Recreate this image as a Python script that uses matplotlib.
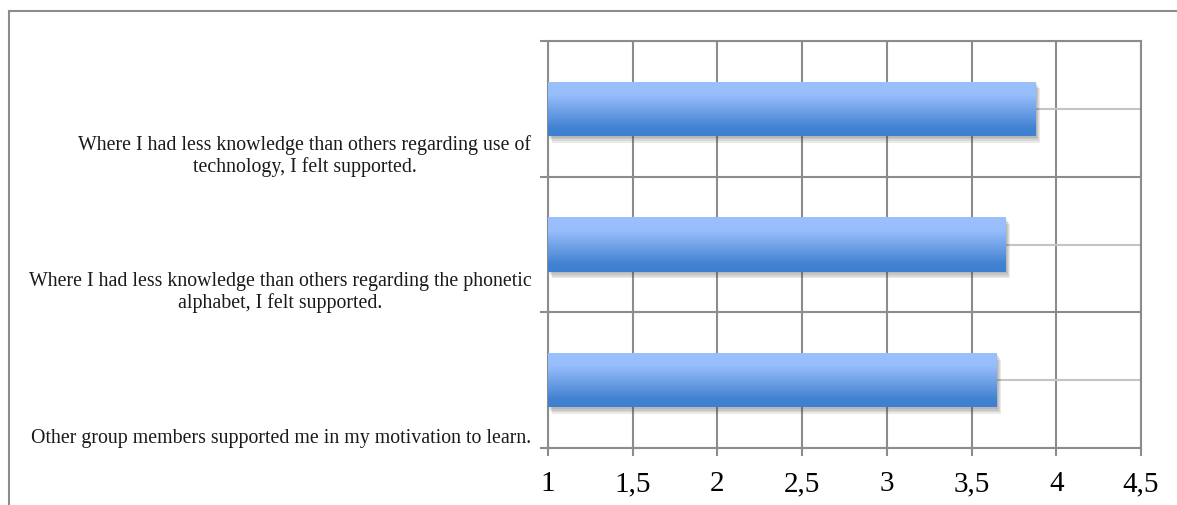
import numpy as np
import matplotlib
matplotlib.use("Agg")
import matplotlib.pyplot as plt
import matplotlib.patheffects as pe
from matplotlib.colors import LinearSegmentedColormap
from matplotlib.lines import Line2D

# survey statements, bottom to top
statements = [
    "Other group members supported me in my motivation to learn.",
    "Where I had less knowledge than others regarding the phonetic\nalphabet, I felt supported.",
    "Where I had less knowledge than others regarding use of\ntechnology, I felt supported.",
]
mean_scores = [3.65, 3.70, 3.88]
x_ticks = [1, 1.5, 2, 2.5, 3, 3.5, 4, 4.5]
x_tick_labels = ["1", "1,5", "2", "2,5", "3", "3,5", "4", "4,5"]

plt.rcParams["font.family"] = ["Liberation Serif", "DejaVu Serif"]

grid_dark = "#8c8c8c"
grid_light = "#c4c4c4"

fig = plt.figure(figsize=(11.77, 5.06), dpi=100)
ax = fig.add_axes([548 / 1177, 1 - 449 / 506, (1141 - 548) / 1177, (449 - 42) / 506])

pos = np.arange(len(statements))
bar_h = 0.4
# soft drop shadow built from a few stacked offsets
shadow = [pe.SimplePatchShadow(offset=(k * 0.8, -k * 1.2), shadow_rgbFace="#444444", alpha=0.11)
          for k in (4, 3, 2, 1)]
bars = ax.barh(pos, [v - 1 for v in mean_scores], left=1, height=bar_h,
               color="#6a9de8", zorder=3, path_effects=shadow + [pe.Normal()])

# vertical gradient fill, light on top, darker at the bottom
grad_cmap = LinearSegmentedColormap.from_list(
    "bar_grad", [(0.0, "#3f7fd0"), (0.15, "#4282d2"), (0.75, "#97bdfa"), (1.0, "#9ac0fd")])
grad = np.linspace(0, 1, 256).reshape(-1, 1)
for b in bars:
    x0, y0 = b.get_x(), b.get_y()
    im = ax.imshow(grad, extent=[x0, x0 + b.get_width(), y0, y0 + b.get_height()],
                   origin="lower", aspect="auto", cmap=grad_cmap, zorder=4,
                   interpolation="bilinear")
    im.set_clip_path(b)

ax.set_xlim(1, 4.5)
ax.set_ylim(-0.5, len(statements) - 0.5)

ax.set_xticks(x_ticks)
ax.set_xticklabels(x_tick_labels, fontsize=21)
ax.tick_params(axis="x", direction="out", length=6, width=1.5, color=grid_dark, pad=10)

# light lines through category centres, dark lines on category edges
ax.set_yticks(pos)
ax.set_yticklabels([])
ax.tick_params(axis="y", which="major", length=0)
ax.set_yticks(np.arange(-0.5, len(statements), 1.0), minor=True)
ax.tick_params(axis="y", which="minor", direction="out", length=6, width=1.5, color=grid_dark)

ax.set_axisbelow(True)
ax.grid(axis="x", color=grid_dark, lw=1.5, zorder=0)
ax.grid(axis="y", which="major", color=grid_light, lw=1.5, zorder=0)
ax.grid(axis="y", which="minor", color=grid_dark, lw=1.5, zorder=0)

for s in ax.spines.values():
    s.set_color(grid_dark)
    s.set_linewidth(1.5)

# category labels sit just above the lower edge of each band
for i, txt in enumerate(statements):
    ax.annotate(txt, xy=(0, i - 0.5), xycoords=("axes fraction", "data"),
                xytext=(-12, 0.5), textcoords="offset points",
                ha="right", va="bottom", multialignment="center",
                fontsize=14.3, color="#1a1a1a", linespacing=1.12)

# outer frame
fig.add_artist(Line2D([9 / 1177, 1], [1 - 12 / 506] * 2, color="#8c8c8c", lw=1.5,
                      transform=fig.transFigure))
fig.add_artist(Line2D([9 / 1177] * 2, [0, 1 - 12 / 506], color="#8c8c8c", lw=1.5,
                      transform=fig.transFigure))

fig.savefig("out.png", dpi=100)
